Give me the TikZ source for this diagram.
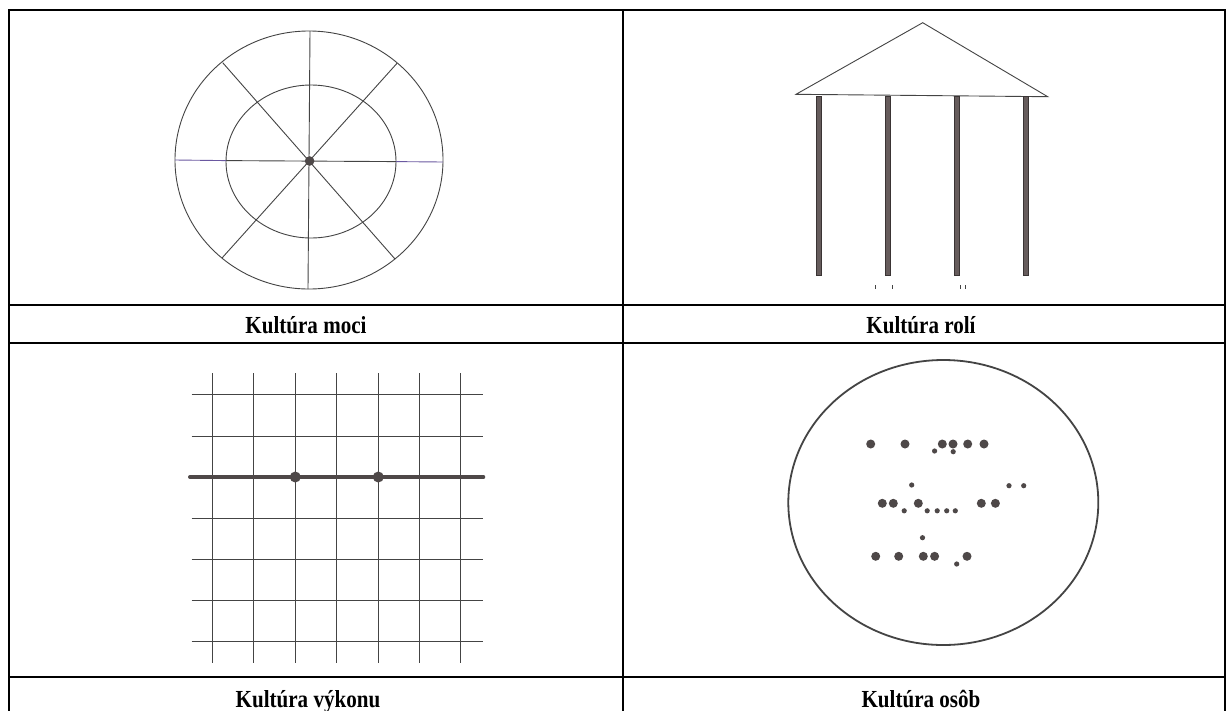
\documentclass[tikz,border=0pt]{standalone}
\usepackage{fontspec}
\setmainfont{Liberation Serif}
\newfontfamily\labfont[FakeStretch=0.86]{Liberation Serif}
\begin{document}
\begin{tikzpicture}[x=1pt,y=-1pt,
  tbl/.style={line width=2.2pt,black},
  thinline/.style={line width=0.9pt,draw=linegray},
  colm/.style={fill=colfill,draw=coledge,line width=0.6pt},
  bigdot/.style={fill=dotgray},
  lab/.style={anchor=base,font=\labfont\fontsize{24.5}{28}\selectfont\bfseries,inner sep=0pt}]
\definecolor{linegray}{HTML}{444444}
\definecolor{colfill}{HTML}{665C5C}
\definecolor{coledge}{HTML}{3A3434}
\definecolor{dotgray}{HTML}{4E4848}
\definecolor{purp}{HTML}{6A58A0}
\useasboundingbox (0,0) rectangle (1226,710);
\fill[white] (0,0) rectangle (1226,710);
% table
\draw[tbl] (9,720) -- (9,10) -- (1225,10) -- (1225,720);
\draw[tbl] (9,305) -- (1225,305);
\draw[tbl] (9,343) -- (1225,343);
\draw[tbl] (9,677) -- (1225,677);
\draw[tbl] (622.7,10) -- (622.7,720);
% labels
\node[lab] (t1) at (306,333) {Kultúra moci};
\node[lab] (t2) at (921,333) {Kultúra rolí};
\node[lab] (t3) at (308,707) {Kultúra výkonu};
\node[lab] (t4) at (921,707) {Kultúra osôb};
% panel 1: power culture
\draw[thinline] (309,160) ellipse [x radius=134pt, y radius=129pt];
\draw[thinline] (311,161.5) ellipse [x radius=85pt, y radius=76.5pt];
\draw[thinline] (310,31) -- (308,289);
\draw[thinline] (226,160.6) -- (396,161.6);
\draw[thinline,draw=purp] (175,160) -- (226,160.6);
\draw[thinline,draw=purp] (396,161.6) -- (443,162);
\draw[thinline] (222.7,62.7) -- (395,259);
\draw[thinline] (397,63.3) -- (222,258);
\fill[dotgray] (309.6,161) circle[radius=4.8pt];
% panel 2: role culture
\draw[thinline] (922.7,22.7) -- (796,94.3) -- (1047.7,96.7) -- cycle;
\foreach \cx in {818.7,887.7,956.7,1025.7}
  \draw[colm] (\cx-2.5,96.5) rectangle (\cx+2.5,275);
\foreach \mx in {875,892,960,965}
  \draw[linegray,line width=0.6pt] (\mx,285) -- (\mx,289);
% panel 3: task culture
\foreach \gx in {212.3,253.3,295.3,336.3,378.3,419,460}
  \draw[thinline] (\gx,373) -- (\gx,663);
\foreach \gy in {394,436,518.3,559.3,600,641}
  \draw[thinline] (191.7,\gy) -- (482.7,\gy);
\draw[line width=4pt,draw=dotgray,line cap=round] (190,477) -- (483.3,477);
\fill[dotgray] (295.3,477) circle[radius=5.5pt];
\fill[dotgray] (378.3,477) circle[radius=5.5pt];
% panel 4: person culture
\draw[line width=1.8pt,draw=linegray] (943.3,502.5) ellipse [x radius=155pt, y radius=142.5pt];
\foreach \px/\py in {870.7/444,905/444,942.3/444,953/444,967.7/444,984/444,
  882.3/503.3,893.3/503.3,918.3/503.3,981.3/503.3,995.4/503.3,
  875.7/556.3,898.7/556.3,923.3/556.3,934.6/556.3,967/556.3}
  \fill[dotgray] (\px,\py) circle[radius=4.5pt];
\foreach \px/\py in {934.6/451,953.2/451.7,911.7/485,1009/485.7,1023.7/485.7,
  904.2/510.8,927.2/510.8,937.2/510.8,946.7/510.8,955.3/510.8,
  922.5/537.7,956.7/564}
  \fill[dotgray] (\px,\py) circle[radius=2.6pt];
\end{tikzpicture}
\end{document}
